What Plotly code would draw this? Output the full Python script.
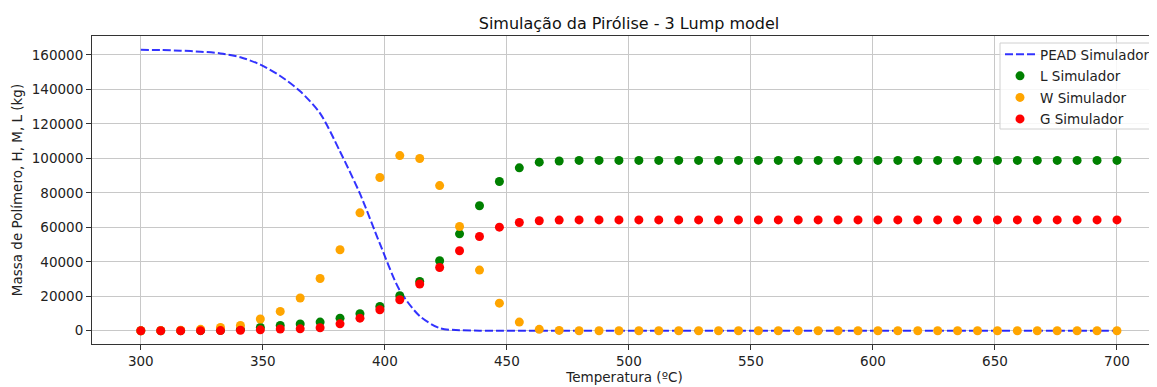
import plotly.graph_objects as go

temperatura = [300.0, 308.16, 316.33, 324.49, 332.65, 340.82, 348.98, 357.14, 365.31, 373.47,
               381.63, 389.8, 397.96, 406.12, 414.29, 422.45, 430.61, 438.78, 446.94, 455.1,
               463.27, 471.43, 479.59, 487.76, 495.92, 504.08, 512.24, 520.41, 528.57, 536.73,
               544.9, 553.06, 561.22, 569.39, 577.55, 585.71, 593.88, 602.04, 610.2, 618.37,
               626.53, 634.69, 642.86, 651.02, 659.18, 667.35, 675.51, 683.67, 691.84, 700.0]

pead = [163000, 162850, 162500, 161900, 160900, 158700, 154400, 147800, 138900, 126100,
        104000, 79500, 50500, 23400, 8500, 1500, 300, 50, 0, 0,
        0, 0, 0, 0, 0, 0, 0, 0, 0, 0,
        0, 0, 0, 0, 0, 0, 0, 0, 0, 0,
        0, 0, 0, 0, 0, 0, 0, 0, 0, 0]

lump_l = [0, 0, 50, 100, 300, 800, 1900, 3100, 3900, 5000,
          7300, 9900, 14100, 20300, 28600, 40600, 56200, 72500, 86600, 94500,
          97800, 98500, 98800, 98800, 98800, 98800, 98800, 98800, 98800, 98800,
          98800, 98800, 98800, 98800, 98800, 98800, 98800, 98800, 98800, 98800,
          98800, 98800, 98800, 98800, 98800, 98800, 98800, 98800, 98800, 98800]

lump_w = [0, 100, 300, 800, 1900, 3100, 6800, 11200, 19000, 30300,
          47000, 68400, 88900, 101600, 99900, 84200, 60500, 35200, 16000, 5000,
          800, 200, 0, 0, 0, 0, 0, 0, 0, 0,
          0, 0, 0, 0, 0, 0, 0, 0, 0, 0,
          0, 0, 0, 0, 0, 0, 0, 0, 0, 0]

lump_g = [0, 0, 0, 50, 100, 300, 500, 1000, 1100, 1700,
          4000, 7300, 12200, 18000, 27100, 36700, 46400, 54700, 60100, 62800,
          63800, 64200, 64300, 64300, 64300, 64300, 64300, 64300, 64300, 64300,
          64300, 64300, 64300, 64300, 64300, 64300, 64300, 64300, 64300, 64300,
          64300, 64300, 64300, 64300, 64300, 64300, 64300, 64300, 64300, 64300]

x_ticks = [300, 350, 400, 450, 500, 550, 600, 650, 700]
y_ticks = [0, 20000, 40000, 60000, 80000, 100000, 120000, 140000, 160000]

FONT = "DejaVu Sans"
W, H = 1149, 379          # page body has an 8px margin
ML, MT, MB = 84, 28, 43
PLOT_W = W - ML
PLOT_H = H - MT - MB

fig = go.Figure()

fig.add_trace(go.Scatter(
    x=temperatura, y=pead, mode="lines", name="PEAD Simulador",
    line=dict(color="rgba(0,0,255,0.8)", width=2, dash="8px,3px", shape="spline", smoothing=0.8),
    legendgroup="a"))
fig.add_trace(go.Scatter(
    x=temperatura, y=lump_l, mode="markers", name="L Simulador",
    marker=dict(color="#008000", size=9, line=dict(width=0)), legendgroup="b"))
fig.add_trace(go.Scatter(
    x=temperatura, y=lump_w, mode="markers", name="W Simulador",
    marker=dict(color="#FFA500", size=9, line=dict(width=0)), legendgroup="c"))
fig.add_trace(go.Scatter(
    x=temperatura, y=lump_g, mode="markers", name="G Simulador",
    marker=dict(color="#FF0000", size=9, line=dict(width=0)), legendgroup="d"))

leg_x = (992 - ML) / PLOT_W
box_top = 1 - 7 / PLOT_H
leg_top = 1 - 3 / PLOT_H
leg_bot = 1 - (121 - MT) / PLOT_H

fig.add_shape(type="rect", xref="paper", yref="paper",
              x0=leg_x, x1=1.05, y0=leg_bot, y1=box_top,
              fillcolor="rgba(255,255,255,0.85)", line=dict(color="#d0d0d0", width=1),
              layer="above")

fig.update_layout(
    width=W, height=H,
    margin=dict(l=ML, r=0, t=MT, b=MB),
    paper_bgcolor="white", plot_bgcolor="white",
    font=dict(family=FONT, size=14, color="#222"),
    title=dict(text="Simulação da Pirólise - 3 Lump model", x=621 / W, xref="container",
               xanchor="center", y=1 - 15 / H, yref="container", yanchor="middle",
               font=dict(family=FONT, size=16, color="#111")),
    showlegend=True,
    legend=dict(x=leg_x, y=leg_top, xanchor="left", yanchor="top",
                bgcolor="rgba(0,0,0,0)", borderwidth=0,
                font=dict(family=FONT, size=13.5, color="#222"),
                traceorder="grouped", tracegroupgap=1, itemwidth=30),
    xaxis=dict(range=[280, 716.4], tickvals=x_ticks, ticktext=[str(v) for v in x_ticks],
               showgrid=True, gridcolor="#c8c8c8", gridwidth=1,
               showline=True, linecolor="#333", linewidth=1, mirror=True,
               ticks="outside", ticklen=5, tickcolor="#333", zeroline=False,
               automargin=False,
               tickfont=dict(family=FONT, size=13.5, color="#222"),
               title=dict(text="Temperatura (ºC)", standoff=4,
                          font=dict(family=FONT, size=13.5, color="#222"))),
    yaxis=dict(range=[-7700, 171000], tickvals=y_ticks, ticktext=[str(v) for v in y_ticks],
               showgrid=True, gridcolor="#c8c8c8", gridwidth=1,
               showline=True, linecolor="#333", linewidth=1, mirror=False,
               ticks="outside", ticklen=5, tickcolor="#333", zeroline=False,
               automargin=False,
               tickfont=dict(family=FONT, size=13.5, color="#222"),
               title=dict(text="Massa de Polímero, H, M, L (kg)", standoff=6,
                          font=dict(family=FONT, size=13.5, color="#222"))),
)

fig.write_html("out.html")
